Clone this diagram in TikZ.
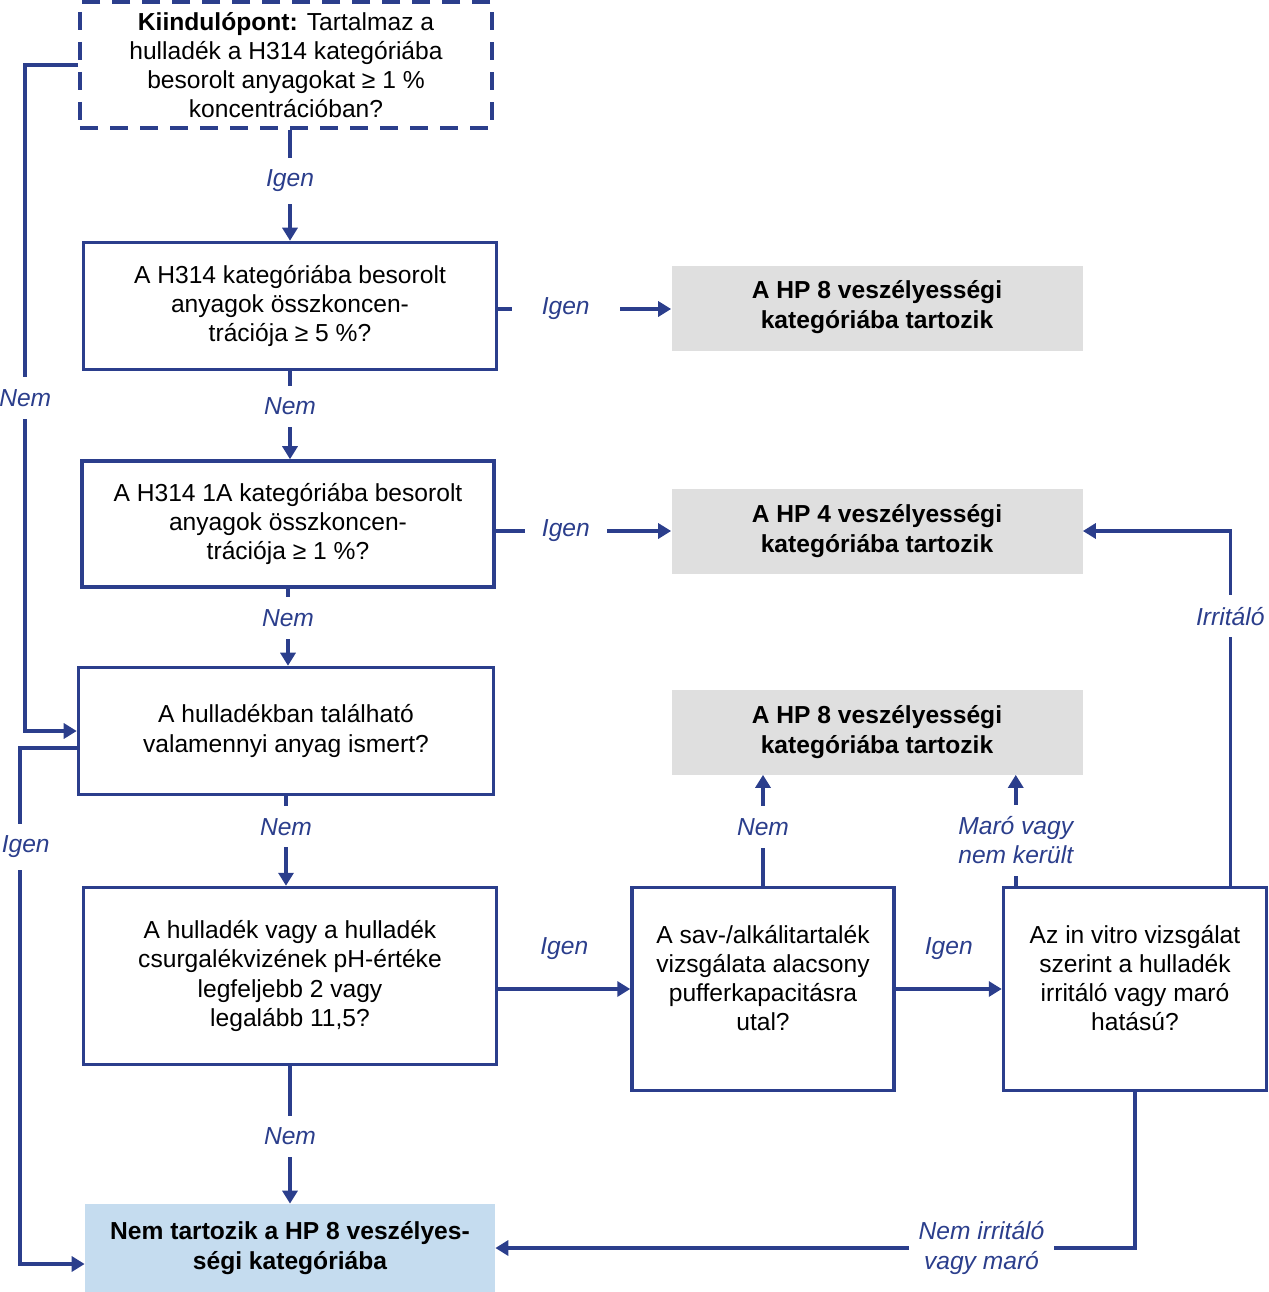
\documentclass[tikz,border=0pt]{standalone}
\usepackage{fontspec}
\setmainfont{Liberation Sans}
\usetikzlibrary{arrows.meta,positioning}
\definecolor{hpln}{HTML}{2B3E8C}
\definecolor{hpgray}{HTML}{DFDFDF}
\definecolor{hpblue}{HTML}{C5DCEF}

\begin{document}
\begin{tikzpicture}[
  font=\fontsize{14}{16.6}\selectfont,
  q/.style={draw=hpln,line width=2pt,fill=white,align=center,inner sep=2pt},
  res/.style={fill=hpgray,align=center,minimum width=8.22cm,minimum height=1.7cm,
              font=\fontsize{14}{17}\selectfont\bfseries},
  ar/.style={-{Triangle[length=2.6mm,width=3mm]},hpln,line width=2pt},
  lbl/.style={font=\fontsize{14}{16.6}\selectfont\itshape,text=hpln,fill=white,
              inner xsep=4mm,inner ysep=2.4mm},
  lbla/.style={lbl,fill=none,inner sep=0pt,above=5.5mm}
]
\useasboundingbox (0,0) rectangle (25.38,-25.84);

\node[q,dash pattern=on 3.6mm off 2.4mm,minimum width=8.24cm,minimum height=2.52cm] (start)
  at (5.72,-1.30) {\textbf{Kiindulópont:} Tartalmaz a\\hulladék a H314 kategóriába\\
  besorolt anyagokat ≥ 1 \%\\koncentrációban?};
\node[q,minimum width=8.26cm,minimum height=2.54cm] (b1) at (5.80,-6.12)
  {A H314 kategóriába besorolt\\anyagok összkoncen-\\trációja ≥ 5 \%?};
\node[res] (hpeight) at (17.54,-6.16) {\mbox{}\\[-8pt]A HP 8 veszélyességi\\kategóriába tartozik};
\node[q,minimum width=8.24cm,minimum height=2.52cm] (b2) at (5.76,-10.48)
  {A H314 1A kategóriába besorolt\\anyagok összkoncen-\\trációja ≥ 1 \%?};
\node[res] (hpfour) at (17.54,-10.62) {A HP 4 veszélyességi\\kategóriába tartozik};
\node[q,minimum width=8.30cm,minimum height=2.54cm] (b3) at (5.72,-14.62)
  {A hulladékban található\\valamennyi anyag ismert?};
\node[res] (hpeightb) at (17.54,-14.64) {A HP 8 veszélyességi\\kategóriába tartozik};
\node[q,minimum width=8.26cm,minimum height=3.54cm] (b4) at (5.80,-19.52)
  {A hulladék vagy a hulladék\\csurgalékvizének pH-értéke\\legfeljebb 2 vagy\\legalább 11,5?};
\node[q,minimum width=5.24cm,minimum height=4.06cm] (b5) at (15.26,-19.78)
  {A sav-/alkálitartalék\\vizsgálata alacsony\\pufferkapacitásra\\utal?\\[-4pt]\mbox{}};
\node[q,minimum width=5.26cm,minimum height=4.06cm] (b6) at (22.70,-19.78)
  {Az in vitro vizsgálat\\szerint a hulladék\\irritáló vagy maró\\hatású?\\[-4pt]\mbox{}};
\node[res,fill=hpblue,minimum width=8.20cm,minimum height=1.76cm] (notin) at (5.80,-24.96)
  {Nem tartozik a HP 8 veszélyes-\\ségi kategóriába};

\coordinate (m6) at ([xshift=2.8mm]b6.north west);
\coordinate (i6) at ([xshift=-7.6mm]b6.north east);

% main column
\draw[ar] (b1.north |- start.south) -- node[lbl,pos=.46]{Igen} (b1.north);
\draw[ar] (b1.south) -- node[lbl,pos=.4]{Nem} (b1.south |- b2.north);
\draw[ar] (b2.south) -- node[lbl,pos=.38]{Nem} (b2.south |- b3.north);
\draw[ar] (b3.south) -- node[lbl,pos=.34]{Nem} (b3.south |- b4.north);
\draw[ar] (b4.south) -- node[lbl,pos=.51]{Nem} (notin.north);

% to the results
\draw[ar] ([yshift=-.6mm]b1.east) -- node[lbl,pos=.39,inner xsep=6mm]{Igen}
  ([yshift=-.6mm]b1.east -| hpeight.west);
\draw[ar] (hpfour.west -| b2.east) -- node[lbl,pos=.4,inner xsep=3.4mm]{Igen} (hpfour.west);
\draw[ar] (b4.east |- b5.west) -- node[lbla]{Igen} (b5.west);
\draw[ar] (b5.east) -- node[lbla]{Igen} (b6.west);
\draw[ar] (b5.north) -- node[lbl,pos=.53]{Nem} (b5.north |- hpeightb.south);
\draw[ar] (m6) -- node[lbl,pos=.41,align=center,inner xsep=2mm]{Maró vagy\\nem került}
  (m6 |- hpeightb.south);
\draw[ar] (i6) |- node[lbl,pos=.38]{Irritáló} (hpfour.east);
\draw[ar] (b6.south) |- node[lbl,pos=.62,align=center,inner xsep=2mm]{Nem irritáló\\vagy maró}
  (notin.east);

% left bypasses
\draw[ar] (start.west) -- ++(-1.06,0) |- node[lbl,pos=.25]{Nem} (b3.west);
\draw[ar] ([yshift=-3.4mm]b3.west) -- ++(-1.14,0) |- node[lbl,pos=.096,xshift=1.2mm]{Igen}
  ([yshift=-3.2mm]notin.west);
\end{tikzpicture}
\end{document}
